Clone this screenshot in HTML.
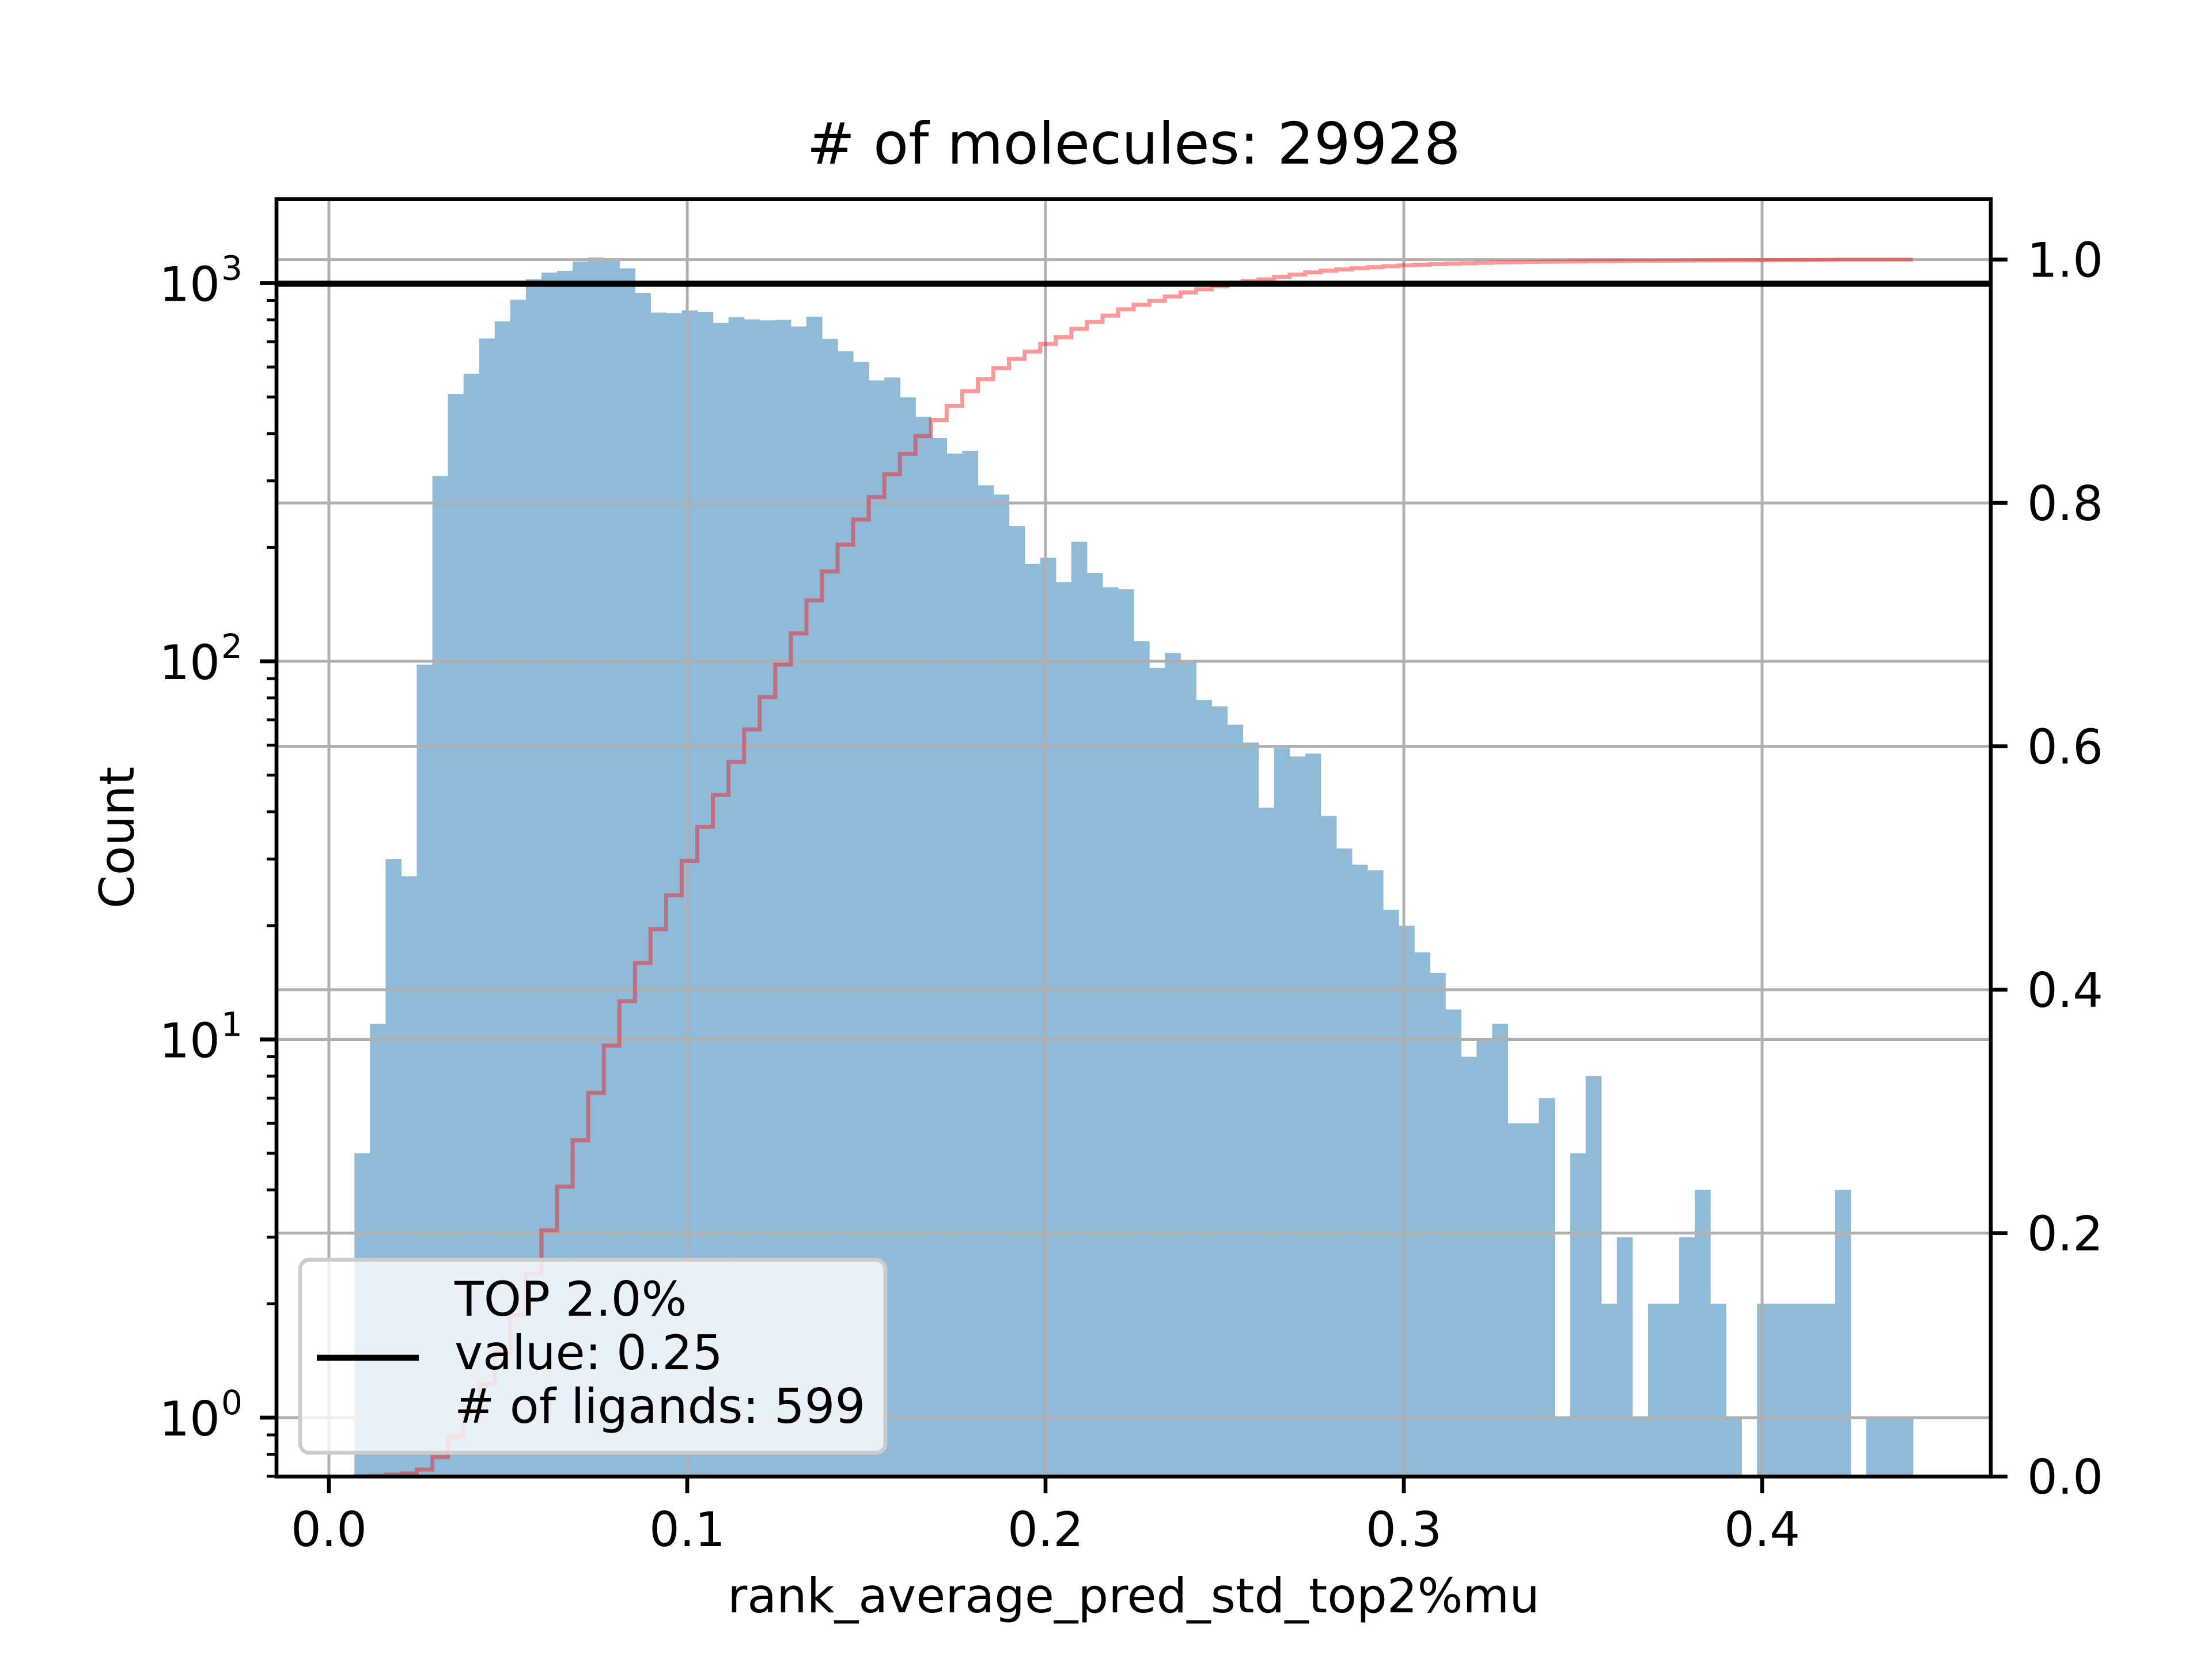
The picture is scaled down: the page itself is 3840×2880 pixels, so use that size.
<!DOCTYPE html>
<html><head><meta charset="utf-8"><style>
html,body{margin:0;padding:0;background:#fff;}
svg{display:block;font-family:"DejaVu Sans","Liberation Sans",sans-serif;}
</style></head><body>
<svg id="chart" xmlns="http://www.w3.org/2000/svg" width="3840" height="2880" viewBox="0 0 3840 2880">
<rect x="0" y="0" width="3840" height="2880" fill="#fff"/>
<g id="bars"></g>
<g id="grid"></g>
<g id="cdf"></g>
<line x1="480" x2="3456" y1="492.5" y2="492.5" stroke="#000" stroke-width="10.5"/>
<g id="axes"></g>
<g>
<rect x="521" y="2187" width="1016" height="335" rx="16" fill="#fff" fill-opacity="0.8" stroke="#cccccc" stroke-width="6.7"/>
<line x1="550" x2="727" y1="2357" y2="2357" stroke="#000" stroke-width="10.5"/>
<text x="789" y="2284" font-size="83">TOP 2.0%</text>
<text x="789" y="2377" font-size="83">value: 0.25</text>
<text x="789" y="2470" font-size="83"># of ligands: 599</text>
</g>
<text x="1968" y="284" font-size="100" text-anchor="middle"># of molecules: 29928</text>
<text x="1968" y="2799" font-size="83" text-anchor="middle">rank_average_pred_std_top2%mu</text>
<text x="0" y="0" font-size="83" text-anchor="middle" transform="translate(232,1454) rotate(-90)">Count</text>
</svg>
<script>
const counts = [5,11,30,27,98,309,509,576,714,792,904,1024,1066,1077,1140,1169,1165,1094,941,836,
833,847,838,785,813,802,797,800,768,815,712,661,619,553,563,499,443,390,354,360,
292,276,228,181,188,162,207,171,157,155,113,96,105,100,79,76,68,61,41,59,
56,57,39,32,29,28,22,20,17,15,12,9,10,11,6,6,7,1,5,8,
2,3,1,2,2,3,4,2,1,0,2,2,2,2,2,4,0,1,1,1];
const binStart = 0.00712;
const binEnd = 0.4421;
const xTicks = [0.0,0.1,0.2,0.3,0.4];
const xTickLabels = ["0.0","0.1","0.2","0.3","0.4"];
const yLeftDecades = [0,1,2,3];
const yRightTicks = [0.0,0.2,0.4,0.6,0.8,1.0];
const yRightLabels = ["0.0","0.2","0.4","0.6","0.8","1.0"];

const NS="http://www.w3.org/2000/svg";
const L=480,R=3456,T=345.6,B=2563.2;
function x(v){return 571+v*6220;}
function yL(c){return 2461-Math.log10(c)*656.5;}
function yR(v){return B-v*2112.6;}
function mk(tag,attrs,parent){const e=document.createElementNS(NS,tag);for(const k in attrs)e.setAttribute(k,attrs[k]);parent.appendChild(e);return e;}

const n=counts.length, w=(binEnd-binStart)/n;
const barsG=document.getElementById('bars');
counts.forEach((c,i)=>{
  if(c<=0)return;
  const x0=x(binStart+i*w), x1=x(binStart+(i+1)*w), yt=yL(c);
  const r=mk('rect',{x:x0,y:yt,width:x1-x0+0.6,height:B-yt,fill:'#8fbbd9'},barsG);
  
  
});

const gridG=document.getElementById('grid');
xTicks.forEach(v=>{const l=mk('line',{x1:x(v),x2:x(v),y1:T,y2:B,stroke:'#b0b0b0','stroke-width':5},gridG);
  
  });
yLeftDecades.forEach(d=>{const yy=yL(Math.pow(10,d));const l=mk('line',{x1:L,x2:R,y1:yy,y2:yy,stroke:'#b0b0b0','stroke-width':5},gridG);
  
  });
yRightTicks.forEach(v=>{const yy=yR(v);const l=mk('line',{x1:L,x2:R,y1:yy,y2:yy,stroke:'#b0b0b0','stroke-width':5},gridG);
  
  });

const total=counts.reduce((a,b)=>a+b,0);
let cum=0, d='M'+x(binStart)+','+yR(0);
counts.forEach((c,i)=>{cum+=c;const f=cum/total;const xa=x(binStart+i*w), xb=x(binStart+(i+1)*w);
  d+=' L'+xa+','+yR(f)+' L'+xb+','+yR(f);});
const p=mk('path',{d:d,fill:'none',stroke:'#ff0000','stroke-opacity':0.4,'stroke-width':7},document.getElementById('cdf'));



const ax=document.getElementById('axes');
mk('rect',{x:L,y:T,width:R-L,height:B-T,fill:'none',stroke:'#000','stroke-width':6.7},ax);
xTicks.forEach((v,i)=>{
  mk('line',{x1:x(v),x2:x(v),y1:B,y2:B+29,stroke:'#000','stroke-width':6.7},ax);
  const t=mk('text',{x:x(v),y:2684,'font-size':83,'text-anchor':'middle'},ax);t.textContent=xTickLabels[i];
  
  
});
yLeftDecades.forEach(dd=>{
  const yy=yL(Math.pow(10,dd));
  mk('line',{x1:L-29,x2:L,y1:yy,y2:yy,stroke:'#000','stroke-width':6.7},ax);
  const t=mk('text',{x:382,y:yy+31,'font-size':83,'text-anchor':'end'},ax);t.textContent='10';
  
  
  const s=mk('text',{x:384,y:yy-6,'font-size':58,'text-anchor':'start'},ax);s.textContent=String(dd);
  
  
});
for(let dd=-1;dd<=3;dd++){for(let k=2;k<=9;k++){const yy=yL(k*Math.pow(10,dd));if(yy<T||yy>B)continue;
  mk('line',{x1:L-17,x2:L,y1:yy,y2:yy,stroke:'#000','stroke-width':5},ax);}}
yRightTicks.forEach((v,i)=>{
  const yy=yR(v);
  mk('line',{x1:R,x2:R+29,y1:yy,y2:yy,stroke:'#000','stroke-width':6.7},ax);
  const t=mk('text',{x:3519,y:yy+30,'font-size':83,'text-anchor':'start'},ax);t.textContent=yRightLabels[i];
  
  
});
</script>
</body></html>
